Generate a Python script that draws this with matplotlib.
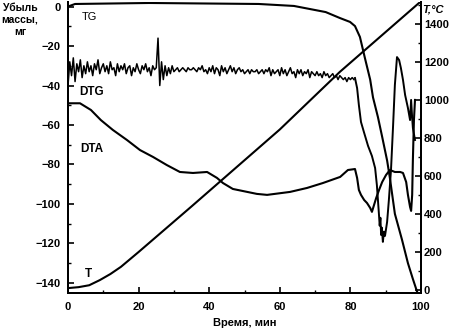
import numpy as np
import matplotlib.pyplot as plt
from matplotlib.ticker import MultipleLocator

plt.rcParams['font.family'] = ['Liberation Sans', 'DejaVu Sans']
plt.rcParams['font.weight'] = 'bold'

# TG, mass loss (mg) vs time (min)
tg_t = [0, 2, 23, 54, 64, 73, 77, 79.9, 81.3, 82.7, 84.1, 85.6, 86.4, 87.8, 89,
        90.4, 91.2, 92.6, 94.6, 96.3, 97.7, 98.9]
tg_v = [0, 1.3, 1.8, 1.3, 0.3, -2.8, -5.8, -7.8, -9.9, -15.4, -26, -37, -46, -56, -66,
        -78, -87, -105, -118, -130, -138, -144.5]

# DTG, noisy part sampled every 0.5 min from 0 to 81 min
dtg_noise_t = np.arange(0, 81.01, 0.5)
dtg_noise_v = [
    -40, -28, -35, -26, -38, -29, -33, -27, -36, -30, -34,
    -28, -33, -30, -35, -29, -32, -27, -34, -31, -29,
    -33, -30, -34, -28, -32, -31, -35, -29, -33, -30,
    -32, -29, -34, -31, -30, -35, -31, -33, -29, -32,
    -34, -30, -32, -29, -33, -31, -35, -30, -32, -31,
    -16, -40, -28, -37, -30, -35, -31, -34, -30, -33,
    -32, -31, -33, -32, -31, -32, -33, -31, -32, -32,
    -31, -32, -33, -31, -32, -30, -33, -32, -34, -31,
    -33, -30, -34, -31, -32, -35, -30, -33, -31, -34,
    -32, -30, -33, -31, -34, -32, -31, -33, -32, -34,
    -33, -32, -34, -32, -33, -33, -32, -34, -33, -32,
    -34, -32, -33, -31, -35, -32, -34, -33, -32, -35,
    -31, -34, -32, -35, -33, -31, -34, -33, -36, -32,
    -34, -32, -35, -33, -34, -32, -36, -33, -34, -35,
    -33, -35, -34, -36, -33, -35, -34, -36, -35, -34,
    -36, -35, -37, -35, -36, -37, -36, -38, -36, -37, -36, -37,
]
# DTG, decomposition part
dtg_end_t = [81.3, 81.9, 82.4, 83, 83.9, 85, 86.1, 87, 87.5, 87.8, 88.1, 88.3, 88.5,
             88.7, 88.9, 89.2, 89.5, 89.8, 90.4, 90.9, 91.5, 92.1, 92.6, 93.2, 93.8,
             94.3, 94.9, 95.5, 96.3, 96.9, 97.2, 97.5, 97.7, 98.3]
dtg_end_v = [-36.2, -41.3, -49.9, -58.5, -64, -70.6, -75.7, -81.8, -90.4, -98, -105.6,
             -111, -107, -115.7, -112, -119.2, -114, -116.2, -109.1, -98, -82.8, -60,
             -39.7, -25.6, -27.1, -31.1, -37.2, -44.8, -51.4, -57.5, -47.3, -56.5,
             -61.5, -67.6]

# DTA
dta_t = [0, 3.4, 6.5, 9.3, 12.7, 16.7, 20.4, 24.1, 28, 31.7, 35.4, 39.4, 42.2, 43.9,
         46.7, 53.5, 56.4, 62.9, 67.7, 72.2, 77.1, 79.3, 81.3, 81.9, 82.4, 83, 83.9,
         84.7, 85.6, 86.1, 86.7, 87.3, 88.1, 89, 90.1, 91.2, 92.6, 94.1, 94.9, 95.8,
         96.3, 96.9, 97.2, 97.5, 97.7, 98, 98.3]
dta_v = [-49, -49, -52.4, -57.5, -62.5, -67.6, -72.7, -76.2, -80.3, -83.8, -84.3,
         -83.8, -86.8, -89.4, -92.4, -94.9, -95.4, -93.9, -91.9, -89.4, -86.3, -82.8,
         -82.3, -86.8, -92.9, -95.4, -98, -99.5, -102, -104, -100.5, -97, -93, -88.9,
         -85.3, -82.8, -83.8, -83.8, -84.3, -88.9, -95.4, -101.5, -103.5, -95.4,
         -77.7, -57.5, -47.3]

# temperature, deg C
temp_t = [0, 3, 6, 9, 12, 15, 20, 35, 60, 77, 100]
temp_v = [10, 15, 25, 52, 84, 122, 200, 440, 845, 1148, 1520]

fig = plt.figure(figsize=(4.55, 3.32), dpi=100)
ax = fig.add_axes([68 / 455, 1 - 293 / 332, 353 / 455, 291 / 332])
ax2 = ax.twinx()

ax.plot(tg_t, tg_v, color='black', lw=1.5)
ax.plot(dtg_noise_t, dtg_noise_v, color='black', lw=1.1)
ax.plot(dtg_end_t, dtg_end_v, color='black', lw=1.4)
ax.plot(dta_t, dta_v, color='black', lw=1.5)
ax2.plot(temp_t, temp_v, color='black', lw=1.5)

ax.set_xlim(0, 100)
ax.set_ylim(-145.1, 2.3)
ax2.set_ylim(-15.8, 1516)

ax.xaxis.set_major_locator(MultipleLocator(20))
ax.xaxis.set_minor_locator(MultipleLocator(10))
ax.yaxis.set_major_locator(MultipleLocator(20))
ax.yaxis.set_minor_locator(MultipleLocator(10))
ax2.yaxis.set_major_locator(MultipleLocator(200))
ax2.yaxis.set_minor_locator(MultipleLocator(100))

for a in (ax, ax2):
    a.spines['top'].set_visible(False)
    for s in a.spines.values():
        s.set_linewidth(1.4)

ax.tick_params(axis='both', which='major', direction='in', length=4, width=1.2,
               labelsize=8)
ax.tick_params(axis='both', which='minor', direction='in', length=2.5, width=1.0)
ax.tick_params(axis='y', pad=5.5)
ax.tick_params(axis='x', pad=6.5)
ax2.tick_params(axis='y', which='major', direction='in', length=4, width=1.2,
                labelsize=8, pad=2)
ax2.tick_params(axis='y', which='minor', direction='in', length=2.5, width=1.0)

ax.text(6.2, -5.3, 'TG', fontsize=8, fontweight='normal', ha='center', va='center')
ax.text(6.8, -43.3, 'DTG', fontsize=8.5, ha='center', va='center')
ax.text(6.8, -72.2, 'DTA', fontsize=8.5, ha='center', va='center')
ax.text(5.7, -135.4, 'T', fontsize=8.5, ha='center', va='center')

fig.text(20 / 455, 1 - 20 / 332, 'Убыль\nмассы,\nмг', fontsize=7.5, ha='center',
         va='center', linespacing=1.2)
fig.text(433 / 455, 1 - 9 / 332, 'T,°C', fontsize=8, fontstyle='italic',
         ha='center', va='center')
fig.text(245 / 455, 1 - 323 / 332, 'Время, мин', fontsize=8, ha='center', va='center')

fig.savefig('out.png', dpi=100)
